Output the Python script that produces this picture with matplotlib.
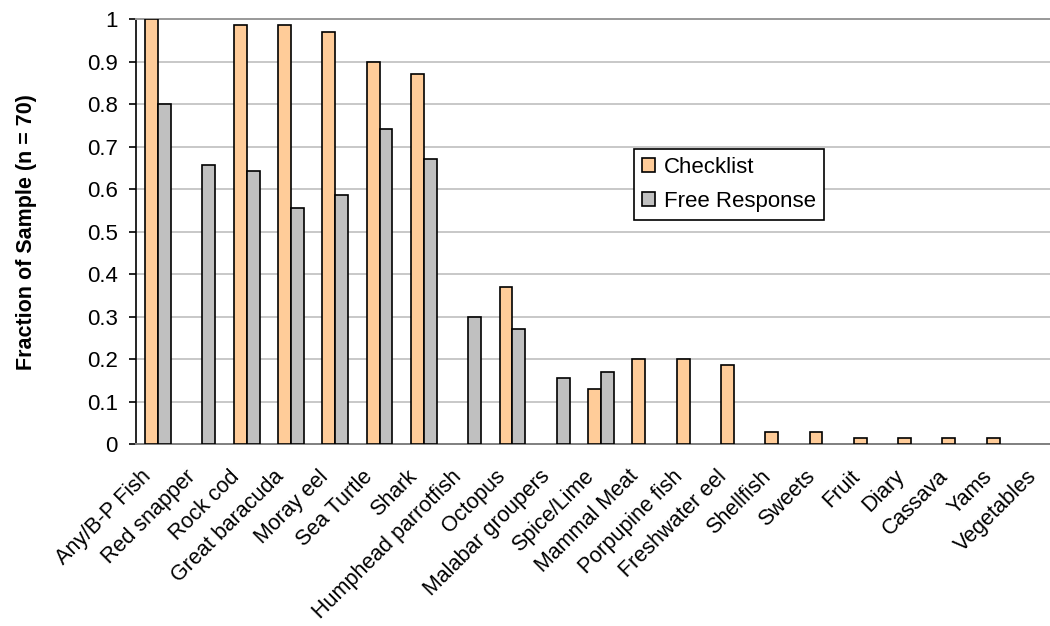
import numpy as np
import matplotlib
matplotlib.use("Agg")
import matplotlib.pyplot as plt
from matplotlib.transforms import ScaledTranslation

plt.rcParams['font.family'] = ['Liberation Sans', 'DejaVu Sans']

categories = ["Any/B-P Fish", "Red snapper", "Rock cod", "Great baracuda", "Moray eel",
              "Sea Turtle", "Shark", "Humphead parrotfish", "Octopus", "Malabar groupers",
              "Spice/Lime", "Mammal Meat", "Porpupine fish", "Freshwater eel", "Shellfish",
              "Sweets", "Fruit", "Diary", "Cassava", "Yams", "Vegetables"]
checklist = [1.0, 0.0, 0.986, 0.986, 0.971, 0.9, 0.871, 0.0, 0.371, 0.0,
             0.129, 0.2, 0.2, 0.186, 0.029, 0.029, 0.014, 0.014, 0.014, 0.014, 0.0]
free_response = [0.8, 0.657, 0.643, 0.557, 0.586, 0.743, 0.671, 0.3, 0.271, 0.157,
                 0.171, 0.0, 0.0, 0.0, 0.0, 0.0, 0.0, 0.0, 0.0, 0.0, 0.0]
yticks = [0, 0.1, 0.2, 0.3, 0.4, 0.5, 0.6, 0.7, 0.8, 0.9, 1]
ytick_labels = ["0", "0.1", "0.2", "0.3", "0.4", "0.5", "0.6", "0.7", "0.8", "0.9", "1"]

fig = plt.figure(figsize=(10.5, 6.26), dpi=100)
ax = fig.add_axes([0.1295, 0.2903, 0.8857, 0.6787])

x = np.arange(len(categories))
w = 0.29
edge_w = 1.2
lw_c = [edge_w if v > 0 else 0 for v in checklist]
lw_f = [edge_w if v > 0 else 0 for v in free_response]
ax.bar(x - w / 2, checklist, w, color="#FFCC99", edgecolor="black", linewidth=lw_c,
       label="Checklist", zorder=3)
ax.bar(x + w / 2, free_response, w, color="#C0C0C0", edgecolor="black", linewidth=lw_f,
       label="Free Response", zorder=3)

ax.set_xlim(-0.5, len(categories) - 0.5)
ax.set_ylim(0, 1)
ax.set_yticks(yticks)
ax.set_yticklabels(ytick_labels, fontsize=16)
ax.yaxis.grid(True, color="#c8c8c8", linewidth=1.4, zorder=0)
ax.set_axisbelow(True)

ax.set_xticks(x)
ax.set_xticklabels(categories, rotation=45, ha="right", va="center",
                   rotation_mode="anchor", fontsize=15.5)
ax.tick_params(axis="x", length=0, pad=21)
ax.tick_params(axis="y", length=5, width=1.2, color="black", pad=8)
shift = ScaledTranslation(-10 / 100, 0, fig.dpi_scale_trans)
for lab in ax.get_xticklabels():
    lab.set_transform(lab.get_transform() + shift)

ax.spines["right"].set_visible(False)
ax.spines["top"].set_color("#999999")
ax.spines["top"].set_linewidth(1.4)
ax.spines["left"].set_color("black")
ax.spines["left"].set_linewidth(1.2)
ax.spines["bottom"].set_color("#808080")
ax.spines["bottom"].set_linewidth(1.4)

ax.set_ylabel("Fraction of Sample (n = 70)", fontsize=15.5, fontweight="bold")
ax.yaxis.set_label_coords(-0.106, 0.5)

leg = ax.legend(loc="upper left", bbox_to_anchor=(0.5355, 0.695), borderaxespad=0,
                fontsize=16, frameon=True, fancybox=False, edgecolor="black", framealpha=1,
                handlelength=0.6, handleheight=0.6, handletextpad=0.4, borderpad=0.35,
                labelspacing=0.6)
leg.get_frame().set_linewidth(1.2)

fig.savefig("out.png", dpi=100)
